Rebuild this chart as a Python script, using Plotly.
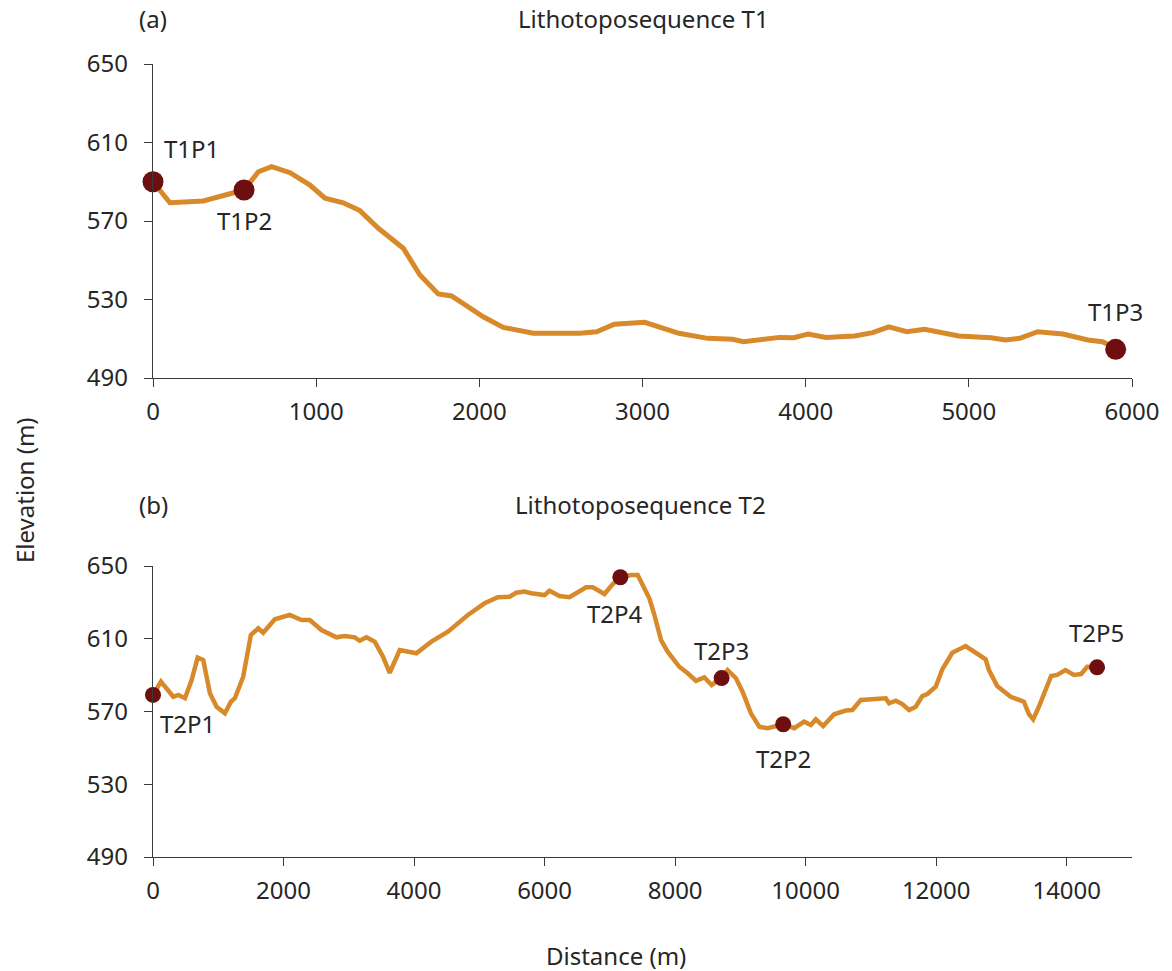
import plotly.graph_objects as go

# ---- Data: Lithotoposequence T1 ----
t1_dist = [0, 104, 308, 558, 646, 727, 840, 962, 1054, 1166, 1268, 1381, 1534, 1636, 1748, 1830,
           2024, 2147, 2330, 2616, 2719, 2827, 3014, 3223, 3399, 3487, 3553, 3619, 3839, 3927,
           4015, 4124, 4300, 4411, 4509, 4620, 4729, 4938, 5136, 5224, 5312, 5422, 5576, 5730,
           5818, 5862, 5900]
t1_elev = [590, 579.3, 580.2, 585.8, 595.1, 597.7, 594.6, 588.3, 581.6, 579.3, 575.3, 566.3, 556.1,
           542.5, 532.8, 531.8, 521.2, 515.8, 512.8, 512.8, 513.6, 517.4, 518.4, 512.8, 510.2,
           510.2, 509.7, 508.5, 510.7, 510.5, 512.4, 510.7, 511.4, 513.1, 516.1, 513.6, 514.8,
           511.4, 510.5, 509.4, 510.2, 513.6, 512.4, 509.4, 508.5, 506.8, 504.6]
t1_pt_names = ["T1P1", "T1P2", "T1P3"]
t1_pt_dist = [0, 558, 5900]
t1_pt_elev = [590, 585.8, 504.6]

# ---- Data: Lithotoposequence T2 ----
t2_dist = [0, 122, 311, 388, 490, 592, 684, 770, 872, 974, 1102, 1194, 1255, 1382, 1500, 1612,
           1688, 1867, 2096, 2275, 2402, 2581, 2811, 2938, 3091, 3168, 3270, 3397, 3524, 3627,
           3780, 4035, 4265, 4519, 4825, 5081, 5284, 5463, 5566, 5692, 5795, 5998, 6075, 6228,
           6381, 6483, 6636, 6738, 6917, 7044, 7161, 7325, 7426, 7503, 7605, 7682, 7784, 7885,
           8064, 8192, 8319, 8447, 8559, 8712, 8804, 8932, 9033, 9161, 9289, 9416, 9656, 9824,
           9977, 10079, 10156, 10268, 10436, 10615, 10716, 10844, 11048, 11227, 11278, 11380,
           11482, 11584, 11686, 11788, 11864, 11993, 12094, 12247, 12451, 12604, 12757, 12808,
           12935, 13140, 13267, 13343, 13420, 13486, 13573, 13675, 13761, 13853, 13981, 14109,
           14221, 14313, 14465]
t2_elev = [579.1, 586.4, 578.1, 579.1, 577.3, 587.3, 599.6, 598.3, 580, 572.6, 569, 575.4, 577.3,
           589.1, 612.1, 615.7, 613.3, 620.7, 623.1, 620.3, 620.3, 614.8, 610.8, 611.5, 610.8,
           608.9, 610.8, 608.4, 600.1, 591.3, 603.8, 602, 608.4, 613.9, 623.1, 629.5, 632.8,
           633.1, 635.3, 635.9, 635, 634, 636.4, 633.5, 632.8, 635, 638.3, 638.3, 634.6, 640.1,
           643.8, 645, 645, 639.6, 632.2, 623.1, 609.3, 602.9, 594.6, 591, 586.9, 588.8, 584.6,
           588.4, 592.8, 588.3, 580.9, 569, 561.6, 560.8, 563, 560.8, 564.4, 562.6, 565.7, 562,
           568.5, 570.5, 570.8, 576.3, 576.7, 577.3, 574.5, 575.9, 574.1, 570.8, 572.6, 578.5,
           579.6, 583.6, 593.2, 602.3, 606, 602.3, 598.7, 592.8, 584, 578.1, 576.7, 575.4,
           568.6, 565.7, 572.6, 582.7, 589.5, 590.1, 592.8, 590.1, 590.6, 594.6, 594.3]
t2_pt_names = ["T2P1", "T2P2", "T2P3", "T2P4", "T2P5"]
t2_pt_dist = [0, 9656, 8712, 7161, 14465]
t2_pt_elev = [579.1, 563, 588.4, 643.8, 594.3]

y_ticks = [490, 530, 570, 610, 650]
t1_x_ticks = [0, 1000, 2000, 3000, 4000, 5000, 6000]
t2_x_ticks = [0, 2000, 4000, 6000, 8000, 10000, 12000, 14000]

# ---- Styling ----
W, H = 1172, 971
LINE_COLOR = "#D8892A"
MARKER_COLOR = "#6E0E0E"
TEXT_COLOR = "#262626"
AXIS_COLOR = "#3A3A3A"
FONT = "Noto Sans"
FS = 24
TICK_FS = 24

def px_x(p):
    return p / W

def px_y(p):
    return 1 - p / H

fig = go.Figure()

fig.add_trace(go.Scatter(x=t1_dist, y=t1_elev, mode="lines",
                         line=dict(color=LINE_COLOR, width=5), xaxis="x", yaxis="y",
                         showlegend=False, hoverinfo="skip", cliponaxis=False))
fig.add_trace(go.Scatter(x=t1_pt_dist, y=t1_pt_elev, mode="markers",
                         marker=dict(color=MARKER_COLOR, size=21), xaxis="x", yaxis="y",
                         showlegend=False, cliponaxis=False))
fig.add_trace(go.Scatter(x=t2_dist, y=t2_elev, mode="lines",
                         line=dict(color=LINE_COLOR, width=4.5), xaxis="x2", yaxis="y2",
                         showlegend=False, hoverinfo="skip", cliponaxis=False))
fig.add_trace(go.Scatter(x=t2_pt_dist, y=t2_pt_elev, mode="markers",
                         marker=dict(color=MARKER_COLOR, size=16), xaxis="x2", yaxis="y2",
                         showlegend=False, cliponaxis=False))

axis_common = dict(showgrid=False, zeroline=False, showline=True, linecolor=AXIS_COLOR,
                   linewidth=1.3, ticks="outside", ticklen=8, tickcolor=AXIS_COLOR,
                   tickwidth=1.3, automargin=False, tickformat="d",
                   tickfont=dict(family=FONT, size=TICK_FS, color=TEXT_COLOR))
x_common = dict(ticklabelstandoff=4, **axis_common)
y_common = dict(ticklabelstandoff=11, **axis_common)

fig.update_layout(
    width=W, height=H,
    margin=dict(l=0, r=0, t=0, b=0, autoexpand=False),
    paper_bgcolor="white", plot_bgcolor="white",
    font=dict(family=FONT, size=FS, color=TEXT_COLOR),
    xaxis=dict(domain=[px_x(153), px_x(1132)], range=[0, 6000], tickvals=t1_x_ticks,
               anchor="y", **x_common),
    yaxis=dict(domain=[px_y(378), px_y(64)], range=[490, 650], tickvals=y_ticks,
               anchor="x", **y_common),
    xaxis2=dict(domain=[px_x(153), px_x(1132)], range=[0, 15000], tickvals=t2_x_ticks,
                anchor="y2", **x_common),
    yaxis2=dict(domain=[px_y(857), px_y(566)], range=[490, 650], tickvals=y_ticks,
                anchor="x2", **y_common),
)

annotations = []
# point labels, offsets in pixels from the markers
t1_shift = [(38, 33), (0, -31), (0, 38)]
for name, dx, dy, (sx, sy) in zip(t1_pt_names, t1_pt_dist, t1_pt_elev, t1_shift):
    annotations.append(dict(x=dx, y=dy, xref="x", yref="y", text=name, showarrow=False,
                            xshift=sx, yshift=sy, font=dict(family=FONT, size=FS, color=TEXT_COLOR)))
t2_shift = [(34, -29), (0, -34), (0, 28), (-5, -36), (-1, 35)]
for name, dx, dy, (sx, sy) in zip(t2_pt_names, t2_pt_dist, t2_pt_elev, t2_shift):
    annotations.append(dict(x=dx, y=dy, xref="x2", yref="y2", text=name, showarrow=False,
                            xshift=sx, yshift=sy, font=dict(family=FONT, size=FS, color=TEXT_COLOR)))

def paper_text(text, x, y, angle=0):
    return dict(x=px_x(x), y=px_y(y), xref="paper", yref="paper", text=text, showarrow=False,
                xanchor="center", yanchor="middle", textangle=angle, borderpad=0,
                font=dict(family=FONT, size=FS, color=TEXT_COLOR))

annotations += [
    paper_text("(a)", 153, 19),
    paper_text("Lithotoposequence T1", 643, 19),
    paper_text("(b)", 153, 504),
    paper_text("Lithotoposequence T2", 640, 504),
    paper_text("Elevation (m)", 25, 490, -90),
    paper_text("Distance (m)", 616, 955),
]
fig.update_layout(annotations=annotations)

# remove the default page margin so the figure sits at the window's top-left corner
fig.write_html("out.html", config={"displayModeBar": False},
               post_script="document.body.style.margin='0px';")
